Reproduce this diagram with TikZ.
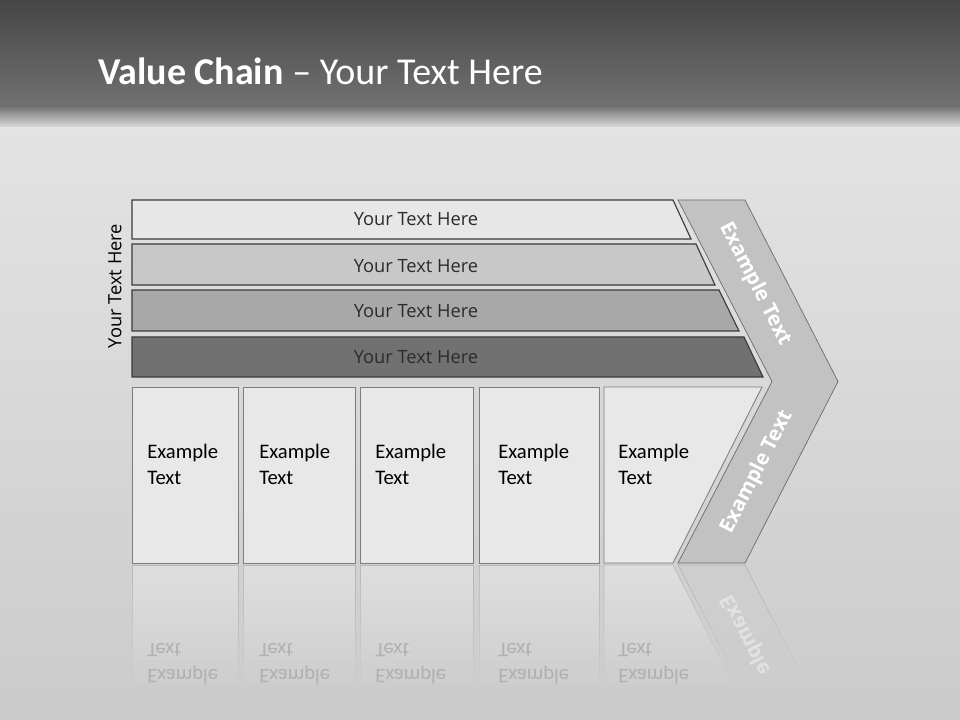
\documentclass[tikz,border=0pt]{standalone}
\usepackage{fontspec}
\setmainfont{Carlito}
\newfontfamily\barfont{Open Sans}
\usepackage{tikz}
\usetikzlibrary{fadings}
\definecolor{headtop}{HTML}{464646}
\definecolor{headbot}{HTML}{717171}
\definecolor{bgtop}{HTML}{E3E3E3}
\definecolor{bgmid}{HTML}{D7D7D7}
\definecolor{bgbot}{HTML}{CBCBCB}
\definecolor{barone}{HTML}{E7E7E7}
\definecolor{bartwo}{HTML}{C8C8C8}
\definecolor{barthree}{HTML}{A8A8A8}
\definecolor{barfour}{HTML}{717171}
\definecolor{barline}{HTML}{3A3A3A}
\definecolor{cardfill}{HTML}{E8E8E8}
\definecolor{cardline}{HTML}{7D7D7D}
\definecolor{chevfill}{HTML}{C2C2C2}
\definecolor{chevline}{HTML}{6B6B6B}
\definecolor{txtdark}{HTML}{2B2B2B}
\definecolor{ghostfill}{HTML}{E4E4E4}
\definecolor{ghostline}{HTML}{A9A9A9}
\definecolor{ghostchev}{HTML}{CDCDCD}
\definecolor{mirrortxt}{HTML}{B0B0B0}
\definecolor{mirrorchev}{HTML}{E2E2E2}
\tikzfading[name=fade down, top color=transparent!30, bottom color=transparent!100]

\begin{document}
\begin{tikzpicture}[
      x=0.025cm, y=-0.025cm,
      bar/.style={draw=barline, line width=0.8pt},
      card/.style={draw=cardline, fill=cardfill, line width=0.6pt},
      chev/.style={draw=chevline, fill=chevfill, line width=0.5pt},
      bartxt/.style={font=\barfont\fontsize{13}{16}\selectfont, text=txtdark, inner sep=0pt},
      cardtxt/.style={font=\fontsize{14.7}{18.5}\selectfont, align=left,
        inner sep=0pt, anchor=base west},
      chevtxt/.style={font=\barfont\bfseries\fontsize{14.5}{17}\selectfont,
        text=white, inner sep=0pt},
      mirror/.style={yscale=-1, text=mirrortxt},
      ghost/.style={fill=ghostfill, draw=ghostline, line width=0.5pt, path fading=fade down}
    ]
    \useasboundingbox (0,0) rectangle (960,720);
    % background
    \shade[top color=headtop, bottom color=headbot] (0,0) rectangle (960,107);
    \shade[top color=headbot, bottom color=bgtop] (0,106) rectangle (960,129);
    \shade[top color=bgtop, middle color=bgmid, bottom color=bgbot] (0,128) rectangle (960,720);

    \node[anchor=base west, inner sep=0pt, text=white, font=\fontsize{27}{32}\selectfont]
      (title) at (98,85) {\textbf{Value Chain} – Your Text Here};

    % stacked bars
    \path[bar, fill=barone] (132,200) -- (673,200) -- (691,239) -- (132,239) -- cycle;
    \path[bar, fill=bartwo] (132,244) -- (696,244) -- (715,285) -- (132,285) -- cycle;
    \path[bar, fill=barthree] (132,290) -- (719,290) -- (739,331) -- (132,331) -- cycle;
    \path[bar, fill=barfour] (132,337) -- (744,337) -- (763,377) -- (132,377) -- cycle;
    \node[bartxt] (barA) at (416,219) {Your Text Here};
    \node[bartxt] (barB) at (416,266) {Your Text Here};
    \node[bartxt] (barC) at (416,311) {Your Text Here};
    \node[bartxt] (barD) at (416,357) {Your Text Here};
    \node[bartxt, text=black, rotate=90] (sidelbl) at (115,286) {Your Text Here};

    % chevron
    \path[chev] (678,200) -- (745,200) -- (838,381.5) -- (745,563) -- (678,563)
      -- (772,381.5) -- cycle;
    \node[chevtxt, rotate=-63] (chevup) at (755,284) {Example Text};
    \node[chevtxt, rotate=63] (chevlo) at (757,472) {Example Text};

    % cards
    \draw[card] (132,387) rectangle (238,563);
    \draw[card] (243,387) rectangle (355,563);
    \draw[card] (360,387) rectangle (473,563);
    \draw[card] (479,387) rectangle (599,563);
    \draw[card] (604,387) -- (762,387) -- (673,563) -- (604,563) -- cycle;
    \node[cardtxt] (cardA) at (147,485) {Example\\Text};
    \node[cardtxt] (cardB) at (259,485) {Example\\Text};
    \node[cardtxt] (cardC) at (375,485) {Example\\Text};
    \node[cardtxt] (cardD) at (498,485) {Example\\Text};
    \node[cardtxt] (cardE) at (618,485) {Example\\Text};

    % reflection
    \path[ghost] (132,565) rectangle (238,690);
    \path[ghost] (243,565) rectangle (355,690);
    \path[ghost] (360,565) rectangle (473,690);
    \path[ghost] (479,565) rectangle (599,690);
    \path[ghost] (604,565) -- (673,565) -- (736,690) -- (604,690) -- cycle;
    \path[ghost, fill=ghostchev] (678,565) -- (745,565) -- (809,690) -- (743,690) -- cycle;
    \node[cardtxt, mirror] (ghostA) at (147,643) {Example\\Text};
    \node[cardtxt, mirror] (ghostB) at (259,643) {Example\\Text};
    \node[cardtxt, mirror] (ghostC) at (375,643) {Example\\Text};
    \node[cardtxt, mirror] (ghostD) at (498,643) {Example\\Text};
    \node[cardtxt, mirror] (ghostE) at (618,643) {Example\\Text};
    \begin{scope}
      \clip (678,565) -- (745,565) -- (801,676) -- (737,676) -- cycle;
      \node[chevtxt, text=mirrorchev, rotate=-63, yscale=-1] (ghostchv) at (757,656) {Example Text};
    \end{scope}
  \end{tikzpicture}
\end{document}
